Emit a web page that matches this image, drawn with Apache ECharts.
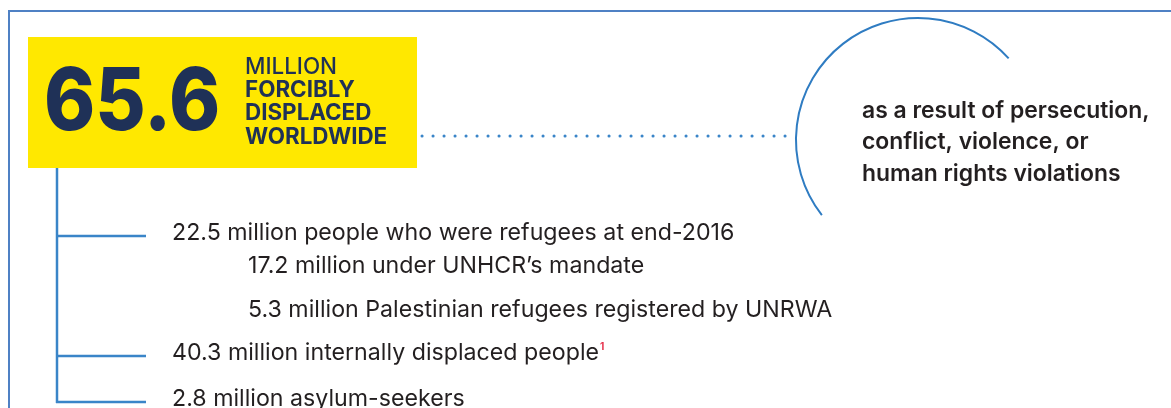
<!DOCTYPE html>
<html>
<head>
<meta charset="utf-8">
<script src="https://cdn.jsdelivr.net/npm/echarts@6/dist/echarts.min.js"></script>
<style>
  html, body { margin: 0; padding: 0; background: #fff; }
  #main { width: 1171px; height: 408px; }
</style>
</head>
<body>
<div id="main"></div>
<script>
// headline figure
var totalValue = '65.6';
var totalLabel = ['MILLION', 'FORCIBLY', 'DISPLACED', 'WORLDWIDE'];

// breakdown (level 0 = branch on the tree, level 1 = indented sub item)
var itemValues = ['22.5', '17.2', '5.3', '40.3', '2.8'];
var itemTexts = [
    'million people who were refugees at end-2016',
    'million under UNHCR\u2019s mandate',
    'million Palestinian refugees registered by UNRWA',
    'million internally displaced people',
    'million asylum-seekers'
];
var itemLevels = [0, 1, 1, 0, 0];
var itemNotes = ['', '', '', '1', ''];

// causes, right side
var causeLines = ['as a result of persecution,', 'conflict, violence, or', 'human rights violations'];

// layout
var rowY = [233, 266, 310, 353, 399];
var blue = '#3a85c8';
var navy = '#1f3157';
var ink = '#231f20';
var font = 'Inter, "Noto Sans", sans-serif';

var myChart = echarts.init(document.getElementById('main'), null, { renderer: 'canvas' });

var els = [];

// frame
els.push({ type: 'line', shape: { x1: 8, y1: 11, x2: 1171, y2: 11 }, style: { stroke: '#4f81c4', lineWidth: 2 } });
els.push({ type: 'line', shape: { x1: 9, y1: 10, x2: 9, y2: 408 }, style: { stroke: '#4f81c4', lineWidth: 2 } });

// yellow box
els.push({ type: 'rect', shape: { x: 28, y: 37, width: 389, height: 131 }, style: { fill: '#ffe800' } });
els.push({
    type: 'text', x: 44, y: 104, scaleX: 0.9,
    style: { text: totalValue, fill: navy, font: '800 86px ' + font, align: 'left', verticalAlign: 'middle' }
});
totalLabel.forEach(function (t, i) {
    els.push({
        type: 'text', x: 245, y: 67 + i * 23.3,
        style: { text: t, fill: navy, font: (i === 0 ? '500' : '700') + ' 22.4px ' + font, align: 'left', verticalAlign: 'middle' }
    });
});

// dotted connector
els.push({
    type: 'line', shape: { x1: 422, y1: 136, x2: 792, y2: 136 },
    style: { stroke: blue, lineWidth: 3, lineDash: [0.1, 10.9], lineCap: 'round' }
});

// arc
els.push({
    type: 'arc',
    shape: { cx: 918, cy: 140, r: 122, startAngle: 142 * Math.PI / 180, endAngle: 318 * Math.PI / 180, clockwise: true },
    style: { stroke: '#2f7cc2', lineWidth: 2, fill: null }
});
causeLines.forEach(function (t, i) {
    els.push({
        type: 'text', x: 862, y: 111 + i * 31.5,
        style: { text: t, fill: ink, font: '600 22.9px ' + font, align: 'left', verticalAlign: 'middle' }
    });
});

// tree
var lastBranch = 0;
itemLevels.forEach(function (lv, i) { if (lv === 0) lastBranch = rowY[i] + 3; });
els.push({ type: 'line', shape: { x1: 57, y1: 168, x2: 57, y2: lastBranch + 1 }, style: { stroke: blue, lineWidth: 2.5 } });

itemValues.forEach(function (v, i) {
    var lv = itemLevels[i];
    var y = rowY[i];
    if (lv === 0) {
        els.push({ type: 'line', shape: { x1: 56, y1: y + 3, x2: 146, y2: y + 3 }, style: { stroke: blue, lineWidth: 2.5 } });
    }
    var txt = v + ' ' + itemTexts[i];
    els.push({
        type: 'text', x: lv === 0 ? 172 : 248, y: y,
        style: {
            text: itemNotes[i] ? txt + '{sup|' + itemNotes[i] + '}' : txt,
            fill: ink, font: '400 23.2px ' + font, align: 'left', verticalAlign: 'middle',
            rich: { sup: { fill: '#e6334d', fontSize: 10, fontWeight: 700, fontFamily: 'Inter', verticalAlign: 'top', padding: [0, 0, 12, 1] } }
        }
    });
});

myChart.setOption({
    animation: false,
    graphic: { elements: els }
});
window.addEventListener('resize', function () {
    myChart.resize();
});
</script>
</body>
</html>
